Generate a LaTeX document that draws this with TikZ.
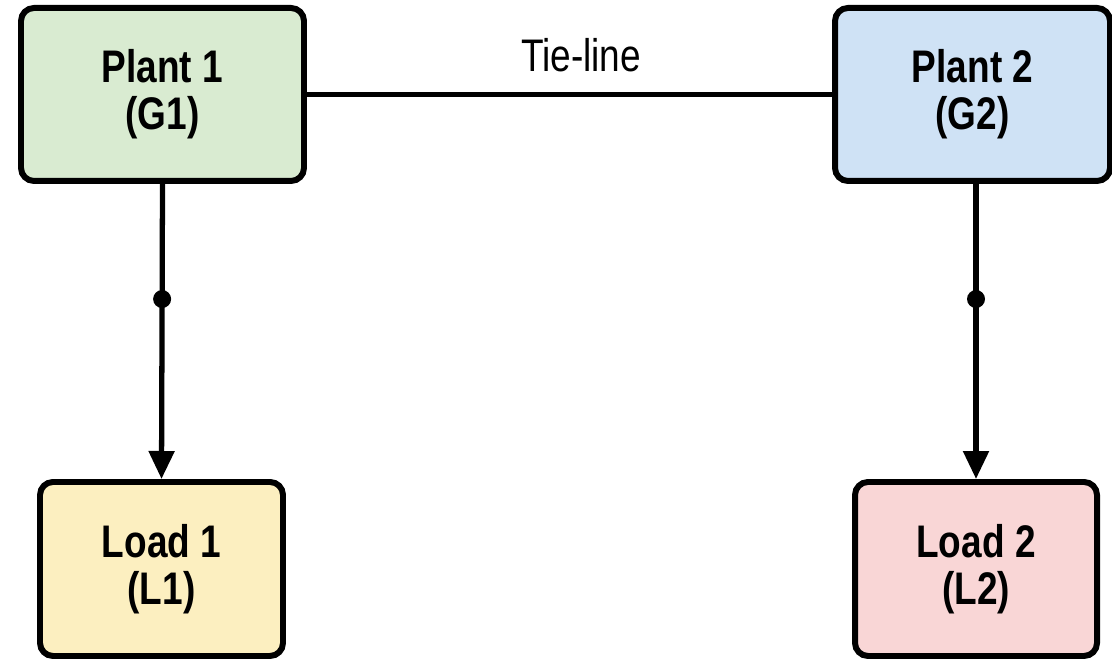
\documentclass[tikz,border=0pt]{standalone}
\usepackage{fontspec}
\setmainfont{Liberation Sans}[FakeStretch=0.81]
\usetikzlibrary{arrows.meta}

\definecolor{plantgreen}{HTML}{D9EBD1}
\definecolor{plantblue}{HTML}{CFE2F5}
\definecolor{loadyellow}{HTML}{FCEFC0}
\definecolor{loadpink}{HTML}{F9D6D6}

\begin{document}
\begin{tikzpicture}[
		box_style/.style={draw=black, line width=1.7pt, rounded corners=0.13cm, align=center,
			font=\fontsize{13}{13.4}\selectfont\bfseries, inner sep=0pt},
		feed_style/.style={line width=1.5pt, -{Triangle[length=0.28cm,width=0.25cm]}}]
		\useasboundingbox (0,0) rectangle (11.12,6.59);

		%PLANTS (top)
		\node[box_style, fill=plantgreen, minimum width=2.83cm, minimum height=1.73cm] (G1) at (1.625,5.645) {Plant 1\\(G1)};
		\node[box_style, fill=plantblue, minimum width=2.75cm, minimum height=1.73cm] (G2) at (9.725,5.645) {Plant 2\\(G2)};

		%LOADS (bottom)
		\node[box_style, fill=loadyellow, minimum width=2.43cm, minimum height=1.74cm] (L1) at (1.615,0.90) {Load 1\\(L1)};
		\node[box_style, fill=loadpink, minimum width=2.42cm, minimum height=1.74cm] (L2) at (9.76,0.90) {Load 2\\(L2)};

		%TIE-LINE
		\draw[line width=1.5pt] (G1.east) -- (G2.west);
		\node[font=\fontsize{13}{14}\selectfont] (tie) at (5.81,6.04) {Tie-line};

		%FEEDERS WITH BUS DOTS
%		\draw (G1.south) -- (L1.north);
		\draw[feed_style] (G1.south) -- coordinate[pos=0.39] (b1) (L1.north);
		\draw[feed_style] (G2.south -| L2.north) -- coordinate[pos=0.39] (b2) (L2.north);
		\fill (b1) circle (0.09);
		\fill (b2) circle (0.09);
\end{tikzpicture}
\end{document}
